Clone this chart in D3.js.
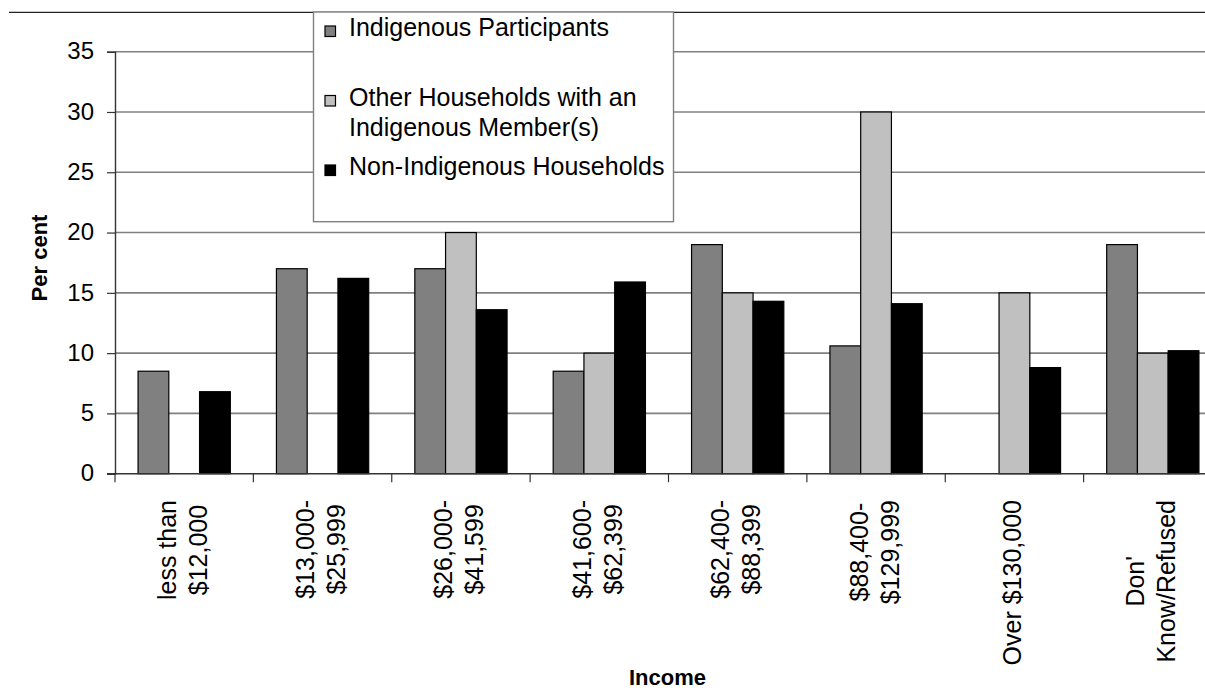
<!DOCTYPE html>
<html>
<head>
<meta charset="utf-8">
<script src="https://cdn.jsdelivr.net/npm/d3@7"></script>
<style>
  html, body { margin: 0; padding: 0; background: #fff; }
  svg { display: block; font-family: "Liberation Sans", Arial, sans-serif; }
</style>
</head>
<body>
<svg id="chart" width="1205" height="691"></svg>
<script>
// ---- data ----
const categories = [
  "less than $12,000", "$13,000-$25,999", "$26,000-$41,599", "$41,600-$62,399",
  "$62,400-$88,399", "$88,400-$129,999", "Over $130,000", "Don't Know/Refused"
];
const categoryLines = [
  ["less than", "$12,000"], ["$13,000-", "$25,999"], ["$26,000-", "$41,599"],
  ["$41,600-", "$62,399"], ["$62,400-", "$88,399"], ["$88,400-", "$129,999"],
  ["Over $130,000"], ["Don'", "Know/Refused"]
];
const seriesNames = ["Indigenous Participants", "Other Households with an Indigenous Member(s)", "Non-Indigenous Households"];
const legendLines = [["Indigenous Participants"], ["Other Households with an", "Indigenous Member(s)"], ["Non-Indigenous Households"]];
const indigenousParticipants = [8.5, 17.0, 17.0, 8.5, 19.0, 10.6, 0, 19.0];
const otherIndigenousHouseholds = [0, 0, 20.0, 10.0, 15.0, 30.0, 15.0, 10.0];
const nonIndigenousHouseholds = [6.8, 16.2, 13.6, 15.9, 14.3, 14.1, 8.8, 10.2];
const yTicks = [0, 5, 10, 15, 20, 25, 30, 35];
const seriesColors = ["#808080", "#C0C0C0", "#000000"];

const seriesValues = [indigenousParticipants, otherIndigenousHouseholds, nonIndigenousHouseholds];

// ---- layout ----
const svg = d3.select("#chart");
const plot = { left: 115, right: 1222, top: 51.7, bottom: 473.7 };

const x = d3.scaleBand().domain(categories).range([plot.left, plot.right]).paddingInner(0).paddingOuter(0);
const xSub = d3.scaleBand().domain(seriesNames).range([0, x.bandwidth()]).paddingInner(0).paddingOuter(0.75);
const y = d3.scaleLinear().domain([0, 35]).range([plot.bottom, plot.top]);

// chart outer border (top edge)
svg.append("line").attr("x1", 9).attr("x2", 1205).attr("y1", 12.3).attr("y2", 12.3)
  .attr("stroke", "#222").attr("stroke-width", 1.2);

// gridlines
svg.append("g").selectAll("line").data(yTicks.filter(d => d > 0)).join("line")
  .attr("x1", plot.left).attr("x2", plot.right)
  .attr("y1", d => y(d)).attr("y2", d => y(d))
  .attr("stroke", "#808080").attr("stroke-width", 1.6);

// bars
const groups = svg.append("g").selectAll("g").data(categories).join("g")
  .attr("transform", d => `translate(${x(d)},0)`);
groups.selectAll("rect")
  .data((c, i) => seriesNames.map((s, j) => ({ s, j, v: seriesValues[j][i] })).filter(d => d.v > 0))
  .join("rect")
  .attr("x", d => xSub(d.s))
  .attr("width", xSub.bandwidth())
  .attr("y", d => y(d.v))
  .attr("height", d => y(0) - y(d.v))
  .attr("fill", d => seriesColors[d.j])
  .attr("stroke", "#000").attr("stroke-width", 1.2);

// y axis
const yAxis = d3.axisLeft(y).tickValues(yTicks).tickSize(8).tickPadding(13).tickFormat(d3.format("d"));
const gy = svg.append("g").attr("transform", `translate(${plot.left},0)`).call(yAxis);
gy.select(".domain").attr("stroke", "#333").attr("stroke-width", 1.4);
gy.selectAll(".tick line").attr("stroke", "#333").attr("stroke-width", 1.2);
gy.selectAll(".tick text").attr("font-size", 24).attr("fill", "#000")
  .attr("font-family", "Liberation Sans, Arial, sans-serif").attr("dy", "0.3em");

// x axis line + boundary ticks
const boundaries = d3.range(categories.length + 1).map(i => plot.left + i * x.step());
svg.append("line").attr("x1", plot.left - 8).attr("x2", plot.right).attr("y1", y(0)).attr("y2", y(0))
  .attr("stroke", "#333").attr("stroke-width", 1.4);
svg.append("g").selectAll("line").data(boundaries).join("line")
  .attr("x1", d => d).attr("x2", d => d).attr("y1", y(0)).attr("y2", y(0) + 8.5)
  .attr("stroke", "#333").attr("stroke-width", 1.2);

// category labels (rotated, lines centered)
const labelTop = 500, lineGap = 31, catFont = 25;
categories.forEach((c, i) => {
  const lines = categoryLines[i];
  const cx = x(c) + x.bandwidth() / 2 - 2;
  const g = svg.append("g");
  const texts = lines.map((t, k) => g.append("text").text(t)
    .attr("font-size", catFont).attr("fill", "#000").attr("text-anchor", "middle"));
  const maxLen = d3.max(texts, t => t.node().getComputedTextLength());
  const cy = labelTop + maxLen / 2;
  texts.forEach((t, k) => {
    const lx = cx + (k - (lines.length - 1) / 2) * lineGap;
    t.attr("transform", `translate(${lx},${cy}) rotate(-90)`).attr("dy", "0.36em");
  });
});

// axis titles
svg.append("text").text("Per cent")
  .attr("transform", `translate(46.5,258) rotate(-90)`)
  .attr("text-anchor", "middle").attr("font-weight", "bold").attr("font-size", 22).attr("fill", "#000");
svg.append("text").text("Income")
  .attr("x", (plot.left + plot.right) / 2 - 1).attr("y", 685)
  .attr("text-anchor", "middle").attr("font-weight", "bold").attr("font-size", 22).attr("fill", "#000");

// legend
const legend = svg.append("g");
legend.append("rect").attr("x", 313.5).attr("y", 12).attr("width", 360).attr("height", 209.7)
  .attr("fill", "#fff").attr("stroke", "#808080").attr("stroke-width", 1.4);
const entryBase = 36, entryStep = 69.5, legendLineGap = 30.7;
seriesNames.forEach((s, i) => {
  const by = entryBase + i * entryStep;
  legend.append("rect").attr("x", 325).attr("y", by - 10).attr("width", 10.5).attr("height", 10.5)
    .attr("fill", seriesColors[i]).attr("stroke", "#000").attr("stroke-width", 1.2);
  legendLines[i].forEach((t, k) => {
    legend.append("text").text(t).attr("x", 349).attr("y", by + k * legendLineGap)
      .attr("font-size", 25).attr("fill", "#000");
  });
});
</script>
</body>
</html>
